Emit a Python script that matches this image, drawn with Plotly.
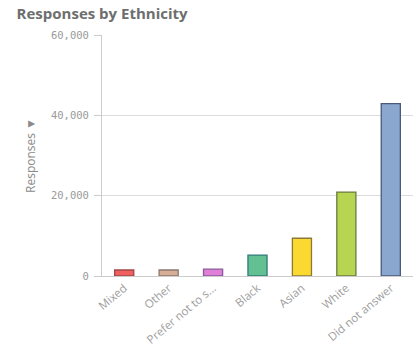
import plotly.graph_objects as go

# Responses per ethnicity group
categories = ["Mixed", "Other", "Prefer not to say", "Black", "Asian", "White", "Did not answer"]
tick_labels = ["Mixed", "Other", "Prefer not to s...", "Black", "Asian", "White", "Did not answer"]
responses = [1500, 1500, 1700, 5200, 9400, 20900, 42900]

fill_colors = ["#f0605e", "#d6ae96", "#e07fd8", "#62c093", "#fbd930", "#b8d552", "#8aa8cf"]
line_colors = ["#a04848", "#8a7a70", "#8a5a9a", "#2f7a78", "#8a7a3a", "#6a7a40", "#4a5a78"]

y_ticks = [0, 20000, 40000, 60000]

fig = go.Figure(
    go.Bar(
        x=categories,
        y=responses,
        marker=dict(color=fill_colors, line=dict(color=line_colors, width=1.3)),
        hovertemplate="%{x}: %{y:,}<extra></extra>",
    )
)

fig.update_layout(
    width=415,
    height=346,
    margin=dict(l=102, r=2, t=35, b=70),
    paper_bgcolor="white",
    plot_bgcolor="white",
    bargap=0.57,
    showlegend=False,
    title=dict(
        text="<b>Responses by Ethnicity</b>",
        x=0.04, xanchor="left",
        y=0.96, yanchor="middle",
        font=dict(family="Open Sans", size=15, color="#6e6e6e"),
    ),
    xaxis=dict(
        tickmode="array",
        tickvals=categories,
        ticktext=tick_labels,
        tickangle=-40,
        tickfont=dict(family="Open Sans", size=11.5, color="#a0a0a0"),
        automargin=False,
        showgrid=False,
        showline=True,
        linecolor="#cccccc",
        linewidth=1,
        ticks="",
    ),
    yaxis=dict(
        range=[0, 60000],
        tickvals=y_ticks,
        tickformat=",",
        tickfont=dict(family="DejaVu Sans Mono", size=10.5, color="#9a9a9a"),
        ticklabelstandoff=3,
        automargin=False,
        showgrid=True,
        gridcolor="#dcdcdc",
        gridwidth=1,
        zeroline=False,
        showline=True,
        linecolor="#cccccc",
        linewidth=1,
        ticks="outside",
        ticklen=7,
        tickcolor="#cccccc",
        title=dict(
            text="Responses ▼",
            standoff=12,
            font=dict(family="Open Sans", size=12, color="#8a8a8a"),
        ),
    ),
)

fig.write_html("out.html")
